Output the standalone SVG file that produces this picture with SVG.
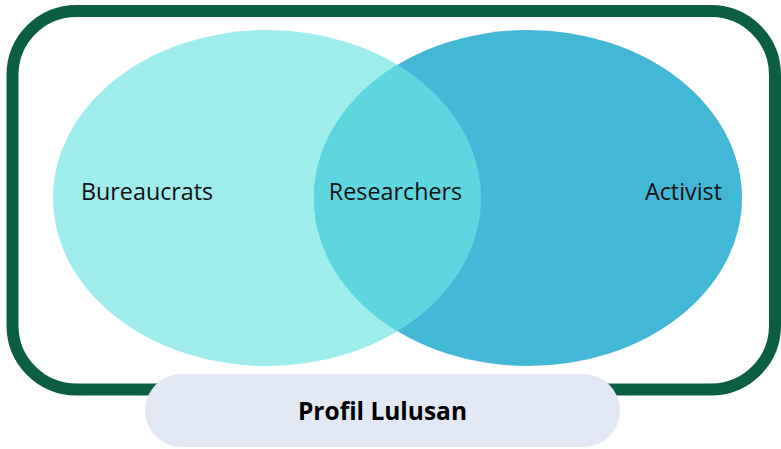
<svg xmlns="http://www.w3.org/2000/svg" width="781" height="449" viewBox="0 0 781 449">
  <style>
    .lbl { font-family: "Open Sans", "Liberation Sans", sans-serif; font-size: 23.3px; fill: #111111; }
    .title { font-family: "Open Sans", "Liberation Sans", sans-serif; font-size: 24.5px; font-weight: bold; fill: #000000; }
  </style>
  <defs>
    <clipPath id="clipRight">
      <ellipse cx="528" cy="198" rx="214" ry="168"/>
    </clipPath>
  </defs>
  <rect width="781" height="449" fill="#ffffff"/>
  <g id="frame">
    <rect x="12.5" y="11" width="762.5" height="378.5" rx="64" ry="64" fill="none" stroke="#0b5e43" stroke-width="12"/>
  </g>
  <g id="bureaucrats">
    <ellipse cx="267" cy="198" rx="214" ry="168" fill="#9eecec"/>
  </g>
  <g id="activist">
    <ellipse cx="528" cy="198" rx="214" ry="168" fill="#42b8d6"/>
  </g>
  <g id="researchers">
    <ellipse cx="267" cy="198" rx="214" ry="168" fill="#5dd6e0" clip-path="url(#clipRight)"/>
  </g>
  <g id="labels">
    <text class="lbl" x="81" y="200">Bureaucrats</text>
    <text class="lbl" x="395.5" y="200" text-anchor="middle">Researchers</text>
    <text class="lbl" x="722" y="200" text-anchor="end">Activist</text>
  </g>
  <g id="connectors"></g>
  <g id="profil">
    <rect x="145" y="374" width="475" height="73" rx="36.5" ry="36.5" fill="#e2e9f4"/>
    <text class="title" x="382.5" y="420" text-anchor="middle">Profil Lulusan</text>
  </g>
</svg>
